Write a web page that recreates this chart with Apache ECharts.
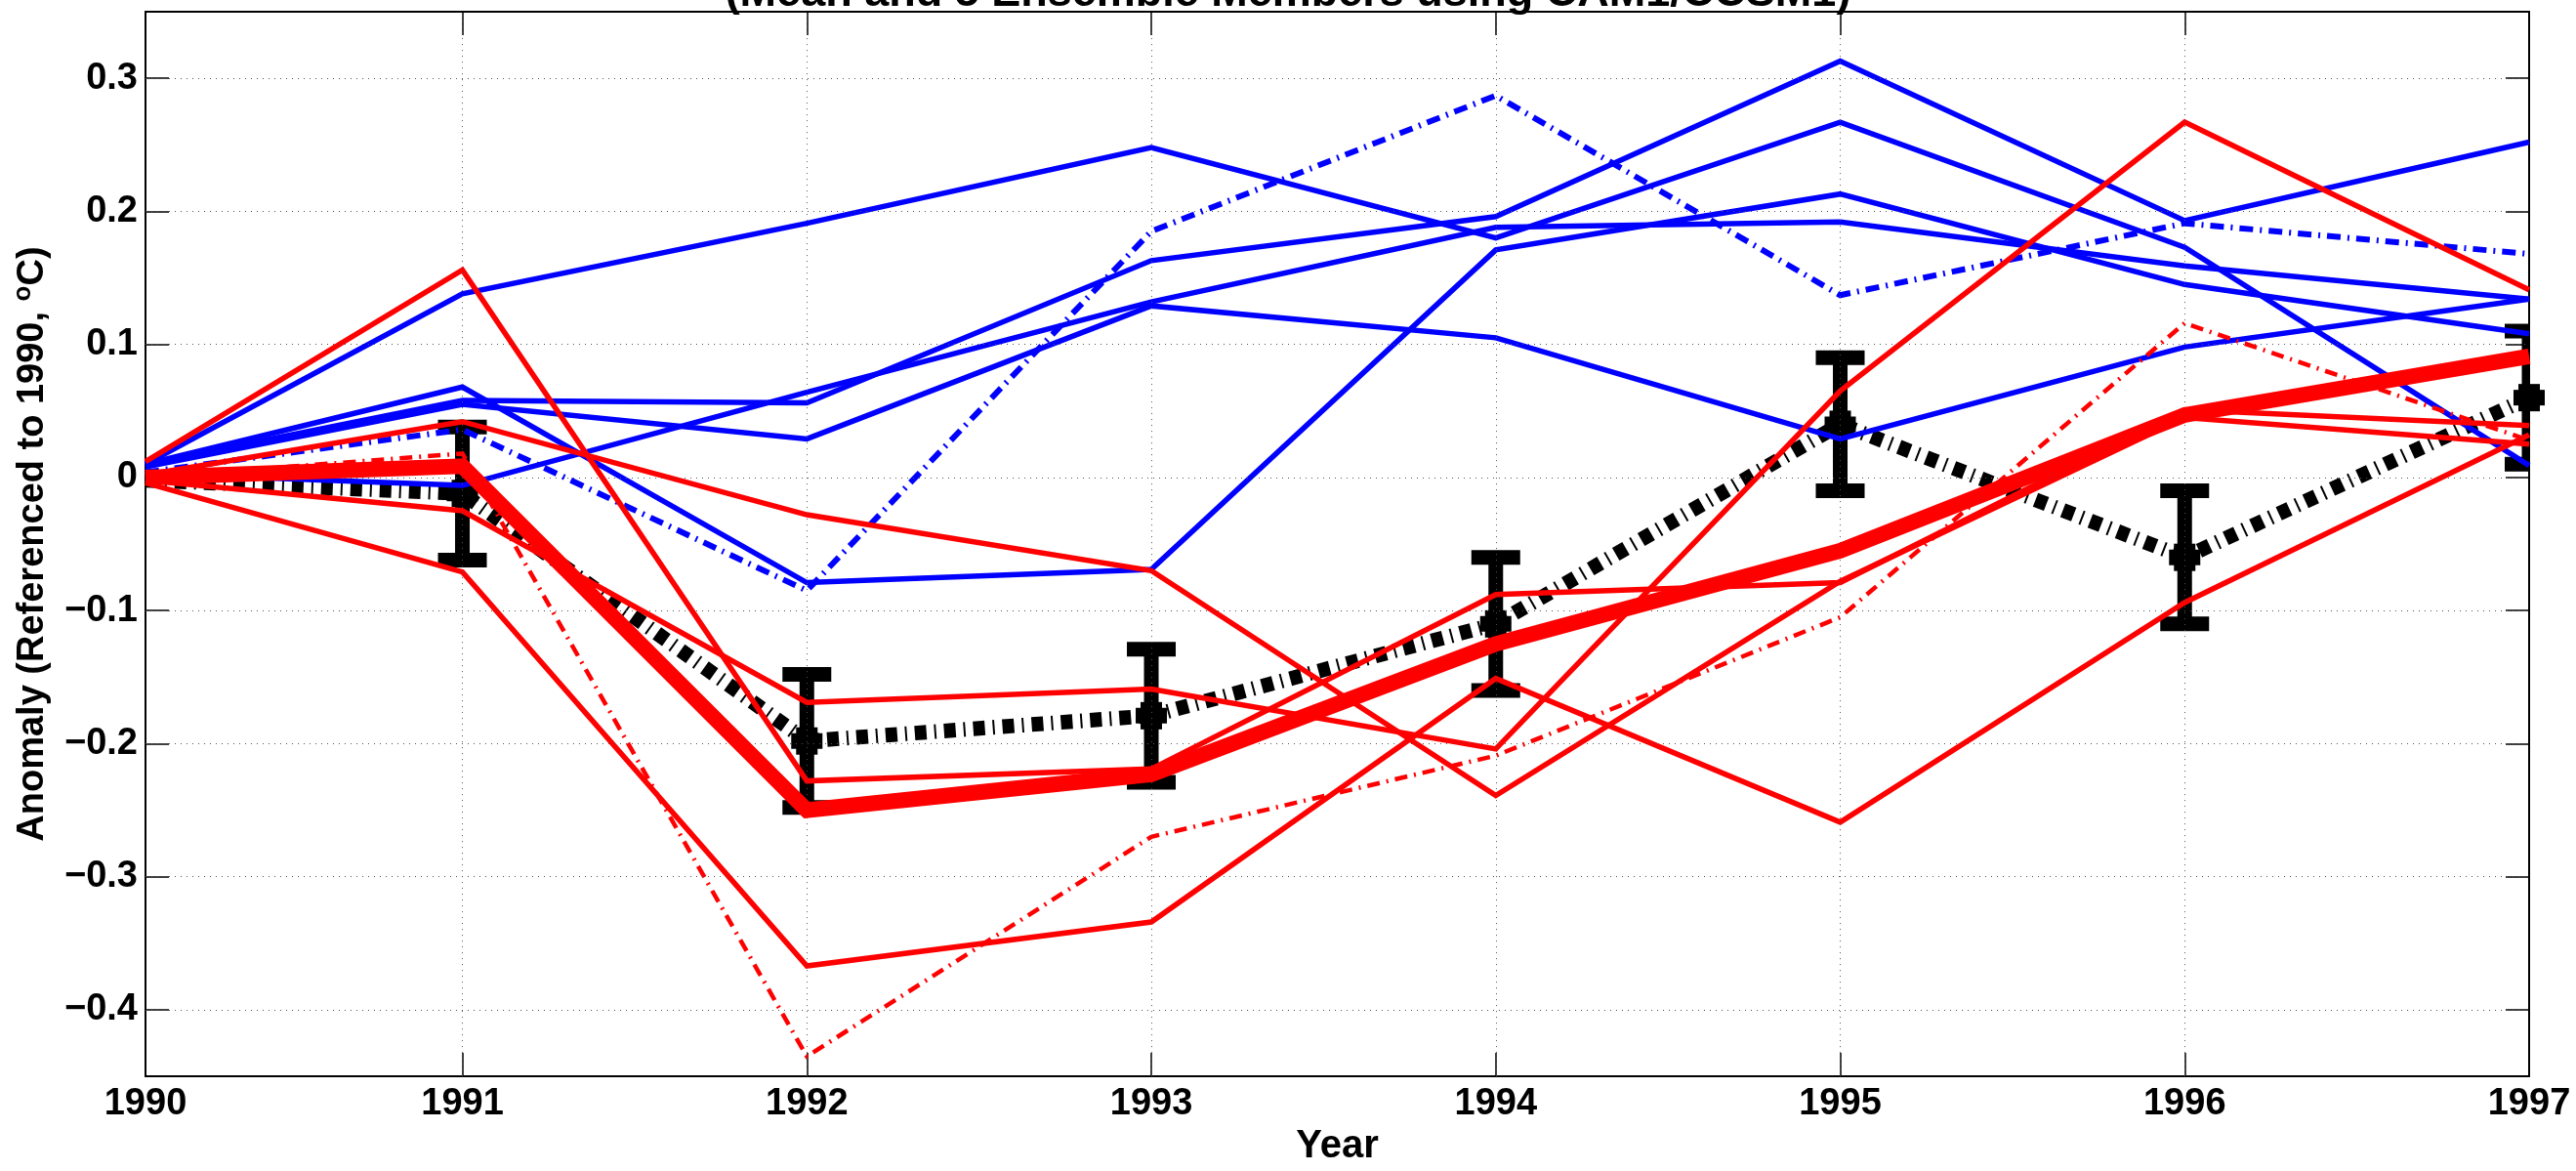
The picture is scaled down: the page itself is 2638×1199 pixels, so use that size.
<!DOCTYPE html>
<html>
<head>
<meta charset="utf-8">
<script src="https://cdn.jsdelivr.net/npm/echarts@6/dist/echarts.min.js"></script>
<style>
html,body{margin:0;padding:0;background:#fff;}
#chart{width:2638px;height:1199px;}
</style>
</head>
<body>
<div id="chart"></div>
<script>
// ---- data ----
// time coordinate of the eight annual samples (first sample sits on the left edge of the axis)
const sampleYears = [1990.08, 1991, 1992, 1993, 1994, 1995, 1996, 1997];
const xTickLabels = ['1990', '1991', '1992', '1993', '1994', '1995', '1996', '1997'];
const yTicks = [-0.4, -0.3, -0.2, -0.1, 0, 0.1, 0.2, 0.3];

// blue ensemble members
const blueA = [0.010, 0.138, 0.191, 0.248, 0.180, 0.267, 0.173, 0.009];
const blueB = [0.010, 0.068, -0.079, -0.069, 0.171, 0.213, 0.145, 0.108];
const blueC = [0.010, 0.058, 0.056, 0.163, 0.196, 0.313, 0.193, 0.252];
const blueD = [0.008, 0.055, 0.029, 0.129, 0.105, 0.029, 0.098, 0.134];
const blueE = [0.003, -0.006, 0.064, 0.132, 0.188, 0.192, 0.159, 0.134];
const blueDashed = [0.004, 0.036, -0.085, 0.185, 0.287, 0.137, 0.191, 0.168];

// red ensemble members
const redA = [0.012, 0.156, -0.228, -0.219, -0.088, -0.079, 0.051, 0.039];
const redB = [0.002, 0.042, -0.028, -0.070, -0.239, -0.078, 0.045, 0.025];
const redC = [-0.002, -0.025, -0.169, -0.159, -0.204, 0.065, 0.267, 0.141];
const redD = [-0.004, -0.071, -0.367, -0.334, -0.151, -0.259, -0.094, 0.032];
const redDashed = [0.000, 0.018, -0.435, -0.270, -0.209, -0.105, 0.116, 0.028];
const redMean = [0.000, 0.0085, -0.250, -0.223, -0.125, -0.055, 0.047, 0.091];

// black mean with error bars
const blackMean = [-0.002, -0.012, -0.198, -0.179, -0.110, 0.040, -0.060, 0.060];
const blackErr = [0, 0.05, 0.05, 0.05, 0.05, 0.05, 0.05, 0.05];

// ---- chart ----
const FONT = "'Liberation Sans', Arial, Helvetica, sans-serif";
const chart = echarts.init(document.getElementById('chart'), null, {renderer: 'canvas'});

function pts(vals) { return sampleYears.map((x, i) => [x, vals[i]]); }
function lineSeries(name, vals, color, width, dash, z) {
  return {
    type: 'line', name: name, data: pts(vals), symbol: 'none', z: z,
    animation: false, silent: true, clip: true,
    lineStyle: {color: color, width: width, type: dash || 'solid', join: 'miter', cap: 'butt'}
  };
}
function fmtY(v) {
  if (Math.abs(v) < 1e-9) return '0';
  return (v < 0 ? '\u2212' : '') + Math.abs(v).toFixed(1);
}
function fmtX(v) {
  const i = sampleYears.findIndex(s => Math.abs(s - v) < 1e-6);
  return i >= 0 ? xTickLabels[i] : '';
}

const axisLineStyle = {color: '#000', width: 2};
const tickStyle = {color: '#000', width: 1.5};
const labelStyle = {fontFamily: FONT, fontSize: 38, fontWeight: 'bold', color: '#000'};

const option = {
  backgroundColor: '#fff',
  animation: false,
  title: {
    text: '(Mean and 5 Ensemble Members using CAM1/CCSM1)',
    left: 'center', top: -29, padding: 0,
    textStyle: {fontFamily: FONT, fontSize: 45, fontWeight: 'bold', color: '#000'}
  },
  grid: {left: 149, right: 48, top: 12, bottom: 83, containLabel: false, show: false},
  xAxis: [{
    type: 'value', position: 'bottom', min: sampleYears[0], max: sampleYears[sampleYears.length - 1],
    axisLine: {show: true, onZero: false, lineStyle: axisLineStyle},
    axisTick: {show: true, inside: true, length: 24, customValues: sampleYears, lineStyle: tickStyle},
    axisLabel: Object.assign({show: true, margin: 9, customValues: sampleYears, formatter: fmtX}, labelStyle),
    splitLine: {show: false},
    name: 'Year', nameLocation: 'middle', nameGap: 43,
    nameTextStyle: {fontFamily: FONT, fontSize: 40, fontWeight: 'bold', color: '#000'}
  }, {
    type: 'value', position: 'top', min: sampleYears[0], max: sampleYears[sampleYears.length - 1],
    axisLine: {show: true, onZero: false, lineStyle: axisLineStyle},
    axisTick: {show: true, inside: true, length: 24, customValues: sampleYears, lineStyle: tickStyle},
    axisLabel: {show: false},
    splitLine: {show: false}
  }],
  yAxis: [{
    type: 'value', position: 'left', min: -0.45, max: 0.35,
    axisLine: {show: true, onZero: false, lineStyle: axisLineStyle},
    axisTick: {show: true, inside: true, length: 24, customValues: yTicks, lineStyle: tickStyle},
    axisLabel: Object.assign({show: true, margin: 8, customValues: yTicks, formatter: fmtY}, labelStyle),
    splitLine: {show: false},
    name: 'Anomaly (Referenced to 1990, {sup|o}C)', nameLocation: 'middle', nameGap: 77, nameRotate: 90,
    nameTextStyle: {
      fontFamily: FONT, fontSize: 38, fontWeight: 'bold', color: '#000', lineHeight: 44,
      rich: {sup: {fontFamily: FONT, fontSize: 26, fontWeight: 'bold', color: '#000', verticalAlign: 'top', lineHeight: 26}}
    }
  }, {
    type: 'value', position: 'right', min: -0.45, max: 0.35,
    axisLine: {show: true, onZero: false, lineStyle: axisLineStyle},
    axisTick: {show: true, inside: true, length: 24, customValues: yTicks, lineStyle: tickStyle},
    axisLabel: {show: false},
    splitLine: {show: false}
  }],
  series: [
    {
      type: 'line', name: 'grid', data: [], z: 0, silent: true, animation: false,
      markLine: {
        silent: true, animation: false, symbol: ['none', 'none'], label: {show: false},
        lineStyle: {color: '#555', width: 1, type: [1, 5]},
        emphasis: {disabled: true},
        data: yTicks.map(v => ({yAxis: v})).concat(sampleYears.slice(1, -1).map(v => ({xAxis: v})))
      }
    },
    {
      type: 'custom', name: 'errorbars', z: 1, clip: false, silent: true, animation: false,
      data: sampleYears.map((x, i) => [x, blackMean[i], blackErr[i]]),
      encode: {x: 0, y: 1},
      renderItem: function (params, api) {
        const x = api.value(0), m = api.value(1), e = api.value(2);
        if (!(e > 0)) return null;
        const pTop = api.coord([x, m + e]);
        const pBot = api.coord([x, m - e]);
        const pMid = api.coord([x, m]);
        const cs = params.coordSys;
        const clipR = {x: cs.x, y: cs.y, width: cs.width, height: cs.height};
        const rects = [
          {x: pTop[0] - 7.5, y: pTop[1], width: 15, height: pBot[1] - pTop[1]},
          {x: pTop[0] - 25, y: pTop[1] - 7.5, width: 50, height: 15},
          {x: pBot[0] - 25, y: pBot[1] - 7.5, width: 50, height: 15}
        ];
        const children = [];
        rects.forEach(r => {
          const c = echarts.graphic.clipRectByRect(r, clipR);
          if (c) children.push({type: 'rect', shape: c, style: {fill: '#000'}});
        });
        children.push({type: 'rect', shape: {x: pMid[0] - 16, y: pMid[1] - 8, width: 32, height: 16}, style: {fill: '#000'}});
        children.push({type: 'rect', shape: {x: pMid[0] - 11, y: pMid[1] - 14, width: 22, height: 28}, style: {fill: '#000'}});
        return {type: 'group', children: children};
      }
    },
    lineSeries('mean (black)', blackMean, '#000', 15, [12, 8, 2, 8], 2),
    lineSeries('blue A', blueA, '#0000ff', 5.5, null, 3),
    lineSeries('blue B', blueB, '#0000ff', 5.5, null, 3),
    lineSeries('blue C', blueC, '#0000ff', 5.5, null, 3),
    lineSeries('blue D', blueD, '#0000ff', 5.5, null, 3),
    lineSeries('blue E', blueE, '#0000ff', 5.5, null, 3),
    lineSeries('blue dash-dot', blueDashed, '#0000ff', 6, [14, 7, 2, 7], 3),
    lineSeries('red A', redA, '#ff0000', 5.5, null, 4),
    lineSeries('red B', redB, '#ff0000', 5.5, null, 4),
    lineSeries('red C', redC, '#ff0000', 5.5, null, 4),
    lineSeries('red D', redD, '#ff0000', 5.5, null, 4),
    lineSeries('red dash-dot', redDashed, '#ff0000', 4.5, [13, 7, 2, 7], 4),
    lineSeries('red mean', redMean, '#ff0000', 16, null, 5)
  ]
};
chart.setOption(option);
</script>
</body>
</html>
